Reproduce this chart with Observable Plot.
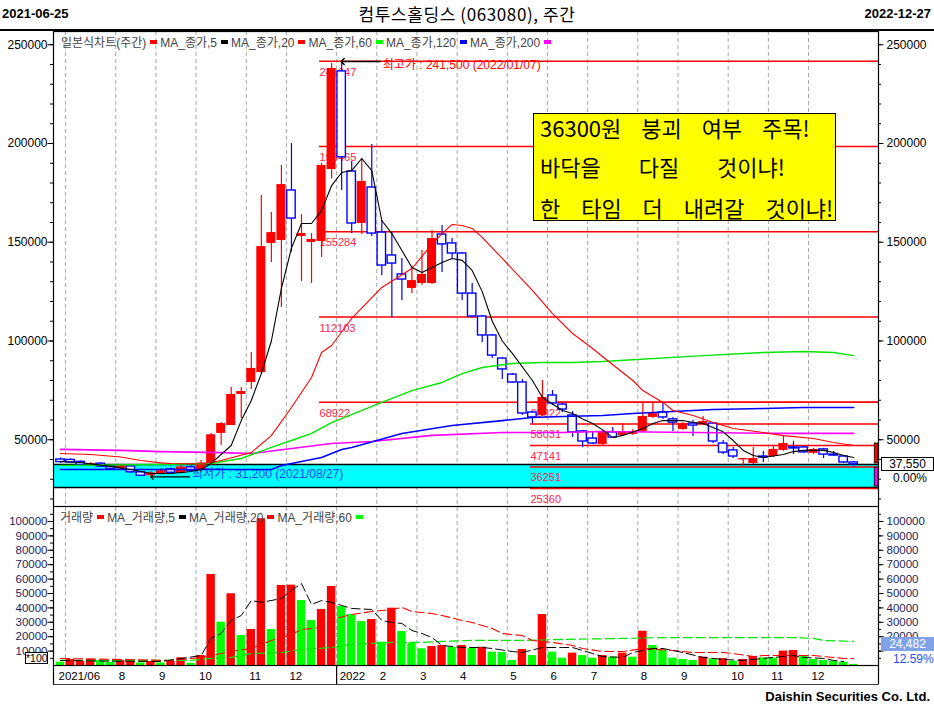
<!DOCTYPE html>
<html><head><meta charset="utf-8">
<script src="https://cdn.jsdelivr.net/npm/d3@7"></script>
<script src="https://cdn.jsdelivr.net/npm/@observablehq/plot@0.6"></script>
<style>
body{margin:0;background:#fff;}
#root{position:relative;width:934px;height:709px;overflow:hidden;font-family:"Liberation Sans","Noto Sans CJK KR",sans-serif;color:#000;}
.abs{position:absolute;white-space:pre;line-height:1;}
.leg{position:absolute;display:flex;align-items:center;font-size:12px;color:#444;white-space:pre;}
.mk{display:inline-block;width:7px;height:4px;margin:0 3px 0 4px;}
.yl{position:absolute;left:540px;font-size:22px;line-height:24px;white-space:pre;font-family:"Noto Sans CJK KR",sans-serif;}
</style></head><body><div id="root"></div>
<script>
// ---------- DATA ----------
const open = [40000,39800,38800,37300,37900,36500,35300,36500,33500,31800,
32800,35000,33000,36000,34400,37300,53200,57200,72900,79000,
84000,149400,150900,176200,152900,149900,150400,186800,236500,185800,
159500,177700,154900,143300,133700,126600,129100,129100,153900,149400,
144300,124000,112400,102800,91100,83000,79000,63800,62300,72400,
67800,62300,54200,50600,47600,53700,52200,52700,54200,61300,
63800,60300,55200,58200,57700,58200,48100,44600,39800,38000,
41500,41500,44600,46100,46100,43100,45100,42500,41500,38500];
const high = [40800,40300,39300,38300,38300,36900,37400,36900,34000,33800,
35300,35800,36900,36800,39500,53200,58700,76500,76500,94200,
173700,165000,188900,200000,164000,154400,190000,240500,241500,190900,
192400,199500,161000,154900,141800,137700,145800,155900,158500,151900,
144800,129100,112900,103300,91600,83500,80500,64300,80000,74900,
68400,64300,54700,54200,54700,56200,58200,55200,68900,68900,
68400,61300,58700,59700,61800,58700,49600,46100,40500,46100,
44100,47100,52200,49100,46600,45600,45600,44100,42000,39000];
const low = [38000,38000,36800,36900,36000,34900,35000,33000,31500,31200,
32300,32800,32800,33800,33400,37000,47100,57200,60800,75500,
83500,139700,117000,145000,130100,129100,142300,182000,176200,154400,
153900,152900,133000,111900,120500,124000,128100,128600,134700,141800,
120500,111900,99200,91100,80500,78500,62300,58000,61800,67300,
63800,51100,46100,47600,47100,50600,51600,52200,53700,60800,
60300,54200,54700,51700,57200,48100,42500,40500,36500,37500,
38500,41000,44100,42500,43100,42600,40500,41500,38000,36300];
const close = [38700,38500,37300,37900,36400,35300,36900,33500,31800,33200,
34300,33300,36200,34300,38200,52500,58200,72900,74400,86100,
147800,154900,179200,162000,154400,151400,188900,238000,193000,159500,
180800,154400,138200,139200,131100,130600,133700,151900,148900,144300,
124000,112400,102800,92600,85600,79000,63300,61300,71400,68400,
65300,53700,49100,48100,53700,51100,53700,54200,61800,63300,
61300,58700,58200,57200,59200,49100,43500,41500,40500,40500,
41000,45100,48100,45600,43600,45100,42500,42000,38500,37550];
// volume (x100 shares) and bar colour (R = more than prior week, G = less)
const volume = [2300,4200,2800,4200,3500,2300,3500,2800,1800,2800,
1800,2800,5300,1600,6900,63200,30100,49800,20800,25000,
101900,25000,55600,55800,45100,31200,38900,54900,41000,35400,
30500,31900,16200,39800,23600,15500,11600,13200,13900,12700,
13900,12000,12700,9300,9100,3500,11100,6900,35400,9300,
5100,8600,6900,5100,6900,5800,8600,5800,23800,13900,
10400,5100,4200,3500,5800,4600,4800,3000,4200,6200,
5300,5200,10000,10400,6200,4200,3500,3000,2300,700];
const volColor = ["G","R","R","R","G","G","R","R","G","R",
"G","R","R","G","R","R","G","R","G","R",
"R","G","R","R","G","G","R","R","G","G",
"G","R","G","R","G","G","G","R","R","G",
"R","G","R","G","G","G","R","G","R","G",
"G","R","G","G","R","G","R","G","R","G",
"G","G","G","G","R","G","R","G","R","R",
"G","G","R","R","G","G","G","G","G","G"];
// moving averages: [week index, value]
const ma5 = [[0,39000],[2,38500],[5,36500],[7,34900],[9,32900],[11,32900],[13,33900],[14,34900],[15,38000],[17,47100],[18,59700],[19,69900],[20,83500],[21,100000],[22,126600],[23,147000],[24,159500],[25,159500],[26,166000],[27,178700],[28,185300],[29,186300],[30,192400],[31,186300],[32,161000],[33,154400],[34,145800],[35,137200],[36,134700],[37,137200],[38,139700],[39,141800],[40,140800],[41,135700],[42,125000],[43,110000],[44,100000],[45,93700],[47,80000],[48,71400],[50,64800],[51,63300],[52,60500],[53,58200],[54,55000],[55,51100],[56,52200],[58,55700],[59,58200],[60,59700],[62,59700],[63,58700],[64,58200],[66,54000],[67,49600],[68,44600],[69,42000],[70,41000],[72,42500],[73,44000],[74,44600],[76,44600],[77,43500],[78,42000],[79,41000]];
const ma20 = [[0,43000],[3,42500],[6,41300],[8,39500],[10,38300],[11,38000],[14,37700],[16,39500],[19,43500],[21,52100],[23,66300],[25,81500],[26,94200],[27,97700],[29,111400],[32,127100],[35,136700],[37,149000],[38,154400],[39,159000],[40,158500],[41,157000],[42,152500],[44,141800],[47,125600],[49,113900],[51,103800],[53,96200],[54,92000],[57,80000],[58,74900],[60,68900],[61,64800],[63,62300],[65,58700],[67,55700],[70,53700],[72,52100],[75,50600],[77,48600],[79,47100]];
const ma60 = [[0,37000],[10,37500],[15,38000],[18,40500],[21,46100],[23,49600],[25,53200],[27,58700],[32,68900],[35,74900],[38,79000],[40,83500],[42,86600],[45,88600],[48,89100],[51,89100],[54,89600],[64,92600],[70,94200],[74,94700],[77,94200],[79,92600]];
const ma120 = [[0,34900],[9,34900],[21,34900],[22,37000],[26,41000],[28,45100],[29,46100],[34,53200],[39,57200],[44,59700],[47,61300],[50,61800],[54,62300],[57,63300],[61,64300],[65,65300],[70,65800],[74,66300],[79,66300]];
const ma200 = [[0,45100],[6,44600],[10,44000],[16,43500],[19,43000],[23,45600],[27,48100],[31,49100],[37,52200],[44,53700],[50,53700],[54,54200],[72,53200],[79,53200]];
const vma5 = [[0,3500],[5,3000],[10,2800],[14,6900],[15,18800],[16,22200],[17,31300],[18,34700],[19,45100],[20,43800],[22,46500],[23,52100],[24,56900],[25,42400],[26,45100],[27,43800],[28,41700],[29,39600],[31,38900],[32,31300],[33,29900],[34,29200],[35,24300],[36,22200],[37,19400],[38,13900],[40,12500],[42,12500],[43,11800],[45,9700],[46,9000],[48,12500],[50,12500],[51,12500],[53,8300],[54,6200],[56,5600],[57,9000],[59,11800],[60,11800],[62,9000],[64,5600],[65,4900],[66,4200],[68,3500],[69,4200],[71,5600],[73,6900],[74,5600],[76,4900],[77,3500],[78,2800]];
const vma20 = [[0,4900],[11,3500],[14,5600],[17,9700],[19,11800],[21,17400],[23,21500],[24,25000],[26,26400],[27,31900],[29,35400],[31,37500],[33,38900],[34,40300],[35,37500],[37,36100],[38,34700],[40,31300],[41,29900],[43,25700],[44,22200],[46,20800],[47,17400],[49,16000],[51,13900],[52,11800],[54,9700],[56,9700],[58,11800],[61,10400],[63,9000],[66,9000],[67,8300],[69,6200],[70,6900],[73,6900],[75,6900],[76,6200],[78,4900],[79,4900]];
const vma60 = [[0,3500],[13,3500],[15,4900],[17,5600],[19,8300],[22,9000],[24,11100],[27,12500],[29,14600],[31,15300],[33,16000],[36,16000],[38,16700],[41,17400],[46,17400],[50,18100],[56,18800],[60,19400],[73,19400],[75,18800],[76,17400],[79,16700]];
// support / resistance levels
const levelsA = [241647,198465,155284,112103,68922];
const levelStartA = 26;
const levelsB = [68922,58031,47141,36251,25360];
const levelStartB = 47;
const highlightBand = [25800,37500];
const highNote = {week: 28, price: 241500, text: "최고가 : 241,500 (2022/01/07)"};
const lowNote = {week: 9, price: 31200, text: "최저가 : 31,200 (2021/08/27)"};
const rangeBars = [{from: 38000, to: 48100, color: "#FF0000"}, {from: 26300, to: 35900, color: "#FF00FF"}];
// axis ticks
const priceTicks = [50000,100000,150000,200000,250000];
const volTicks = [10000,20000,30000,40000,50000,60000,70000,80000,90000,100000];
const volTicksRight = [20000,30000,40000,50000,60000,70000,80000,90000,100000];
const monthWeeks = [1,6,10,14,19,23,28,32,36,40,45,49,53,58,62,67,71,75];
const axisLabelWeeks = [0,6,10,14,19,23,28,32,36,40,45,49,53,58,62,67,71,75];
const axisLabels = ["2021/06","8","9","10","11","12","2022","2","3","4","5","6","7","8","9","10","11","12"];
const yearWeek = 28;

// ---------- CHART ----------
const RED="#FF0000", BLUE="#0000FF", GREEN="#00FF00", MAG="#FF00FF", LBL="#FF2448";
const FONT = '"Liberation Sans","Noto Sans CJK KR",sans-serif';
const X_L = -0.7, X_R = 81.47;
const priceDomain = [16200, 256700];
const volDomain = [0, 110400];
const candles = close.map((c,i)=>({i, o: open[i], h: high[i], l: low[i], c, up: c >= open[i]}));
const vols = volume.map((v,i)=>({i, v, c: volColor[i]}));
const minorP = d3.range(20000, 256000, 10000);
const minorV = d3.range(5000, 110000, 5000);
const px = d => d[0], py = d => d[1];

const pricePlot = Plot.plot({
  width: 934, height: 475, marginLeft: 53, marginRight: 56, marginTop: 0, marginBottom: 0,
  x: {domain: [X_L, X_R], axis: null},
  y: {domain: priceDomain, axis: null},
  style: {fontFamily: FONT, fontSize: "12px", background: "transparent", color: "#000"},
  marks: [
    Plot.ruleX(monthWeeks, {x: d => d - 0.5, stroke: "#A8A8A8", strokeDasharray: "4,3"}),
    Plot.rect([highlightBand], {x1: X_L, x2: X_R, y1: d => d[0], y2: d => d[1], fill: "#00FFFF"}),
    Plot.ruleY(highlightBand, {x1: X_L, x2: X_R, stroke: "#000", strokeWidth: 1.5}),
    Plot.ruleY(levelsA, {x1: levelStartA - 0.2, x2: X_R, stroke: RED, strokeWidth: 1.5}),
    Plot.ruleY(levelsB, {x1: levelStartB - 0.2, x2: X_R, stroke: RED, strokeWidth: 1.5}),
    Plot.text(levelsA, {x: levelStartA - 0.2, y: d => d, text: d => String(d), dy: 11, textAnchor: "start", fill: LBL, fontSize: 11}),
    Plot.text(levelsB, {x: levelStartB - 0.2, y: d => d, text: d => String(d), dy: 11, textAnchor: "start", fill: LBL, fontSize: 11}),
    Plot.link([lowNote], {x1: d => d.week + 3.9, x2: d => d.week + 0.1, y1: "price", y2: "price", stroke: "#000", strokeWidth: 1.2, markerEnd: "arrow"}),
    Plot.text([lowNote], {x: d => d.week + 4.1, y: "price", text: "text", dy: -3, textAnchor: "start", fill: "#1F3FFF", fontSize: 12}),
    // candles
    Plot.ruleX(candles, {x: "i", y1: "l", y2: "h", stroke: d => d.up ? RED : BLUE, strokeWidth: 1.2}),
    Plot.rect(candles.filter(d => d.up), {x1: d => d.i - 0.45, x2: d => d.i + 0.45, y1: "o", y2: "c", fill: RED}),
    Plot.rect(candles.filter(d => !d.up), {x1: d => d.i - 0.42, x2: d => d.i + 0.42, y1: "o", y2: "c", fill: "#fff", stroke: BLUE, strokeWidth: 1.4}),
    // moving averages
    Plot.line(ma200, {x: px, y: py, stroke: MAG, strokeWidth: 1.6}),
    Plot.line(ma120, {x: px, y: py, stroke: BLUE, strokeWidth: 1.6}),
    Plot.line(ma60, {x: px, y: py, stroke: "#00E600", strokeWidth: 1.4}),
    Plot.line(ma20, {x: px, y: py, stroke: RED, strokeWidth: 1.1}),
    Plot.line(ma5, {x: px, y: py, stroke: "#000", strokeWidth: 1.1}),
    // high annotation
    Plot.link([highNote], {x1: d => d.week + 3.9, x2: d => d.week + 0.1, y1: "price", y2: "price", stroke: "#000", strokeWidth: 1.5, markerEnd: "arrow"}),
    Plot.text([highNote], {x: d => d.week + 4.1, y: "price", text: "text", dy: 4, textAnchor: "start", fill: RED, fontSize: 12}),
    // range bars at right edge
    Plot.rect(rangeBars, {x1: 81.1, x2: X_R, y1: "from", y2: "to", fill: "color", stroke: "#000", strokeWidth: 0.8}),
    // axes
    Plot.ruleY(minorP, {x1: X_L - 0.3, x2: X_L, stroke: "#000"}),
    Plot.ruleY(minorP, {x1: X_R, x2: X_R + 0.3, stroke: "#000"}),
    Plot.ruleY(priceTicks, {x1: X_L - 0.55, x2: X_L, stroke: "#000"}),
    Plot.ruleY(priceTicks, {x1: X_R, x2: X_R + 0.55, stroke: "#000"}),
    Plot.text(priceTicks, {x: X_L, y: d => d, text: d => String(d), dx: -6, textAnchor: "end", fontSize: 12}),
    Plot.text(priceTicks, {x: X_R, y: d => d, text: d => String(d), dx: 8, textAnchor: "start", fontSize: 12}),
    Plot.frame({stroke: "#000", strokeWidth: 1.2})
  ]
});

const VCOL = "#1E1E5A";
const volPlot = Plot.plot({
  width: 934, height: 179, marginLeft: 53, marginRight: 56, marginTop: 0, marginBottom: 20,
  x: {domain: [X_L, X_R], axis: null},
  y: {domain: volDomain, axis: null},
  style: {fontFamily: FONT, fontSize: "12px", background: "transparent", color: "#000"},
  marks: [
    Plot.ruleX(monthWeeks, {x: d => d - 0.5, y1: 0, y2: volDomain[1], stroke: "#A8A8A8", strokeDasharray: "4,3"}),
    Plot.rect(vols.filter(d => d.c === "R"), {x1: d => d.i - 0.42, x2: d => d.i + 0.42, y1: 0, y2: "v", fill: RED}),
    Plot.rect(vols.filter(d => d.c === "G"), {x1: d => d.i - 0.42, x2: d => d.i + 0.42, y1: 0, y2: "v", fill: GREEN}),
    Plot.line(vma60, {x: px, y: py, stroke: "#00E600", strokeWidth: 1.2, strokeDasharray: "9,4"}),
    Plot.line(vma20, {x: px, y: py, stroke: RED, strokeWidth: 1.1, strokeDasharray: "9,4"}),
    Plot.line(vma5, {x: px, y: py, stroke: "#000", strokeWidth: 1, strokeDasharray: "9,4"}),
    Plot.ruleY(minorV, {x1: X_L - 0.3, x2: X_L, stroke: "#000"}),
    Plot.ruleY(minorV, {x1: X_R, x2: X_R + 0.3, stroke: "#000"}),
    Plot.ruleY(volTicks, {x1: X_L - 0.55, x2: X_L, stroke: "#000"}),
    Plot.ruleY(volTicks, {x1: X_R, x2: X_R + 0.55, stroke: "#000"}),
    Plot.text(volTicks, {x: X_L, y: d => d, text: d => String(d), dx: -6, textAnchor: "end", fill: VCOL, fontSize: 11.5}),
    Plot.text(volTicksRight, {x: X_R, y: d => d, text: d => String(d), dx: 8, textAnchor: "start", fill: VCOL, fontSize: 11.5}),
    Plot.frame({stroke: "#000", strokeWidth: 1.2}),
    // x axis strip
    Plot.ruleY([-19.5 * volDomain[1] / 159], {x1: X_L, x2: X_R, stroke: "#000", strokeWidth: 1.5}),
    Plot.ruleX([X_L, X_R, yearWeek - 0.5], {y1: -19.5 * volDomain[1] / 159, y2: 0, stroke: "#000", strokeWidth: 1.2}),
    Plot.text(axisLabels, {x: (d, i) => axisLabelWeeks[i] - 0.5, y: () => 0, text: d => d, dy: 11, dx: 3, textAnchor: "start", fontSize: 11.5})
  ]
});

// ---------- LAYOUT ----------
const root = document.getElementById("root");
function add(html){ root.insertAdjacentHTML("beforeend", html); }
add(`<div class="abs" style="left:2px;top:7px;font-size:13px;font-weight:bold;">2021-06-25</div>`);
add(`<div class="abs" style="left:0;width:934px;top:5px;text-align:center;font-size:17px;letter-spacing:0.6px;font-family:'Noto Sans CJK KR',sans-serif;">컴투스홀딩스 (063080), 주간</div>`);
add(`<div class="abs" style="right:3px;top:7px;font-size:13px;font-weight:bold;">2022-12-27</div>`);
add(`<div class="abs" style="left:0;top:29px;width:934px;height:0;border-top:2px solid #000;"></div>`);
const p1 = document.createElement("div"); p1.style.cssText = "position:absolute;left:0;top:31px;"; p1.appendChild(pricePlot); root.appendChild(p1);
const p2 = document.createElement("div"); p2.style.cssText = "position:absolute;left:0;top:506px;"; p2.appendChild(volPlot); root.appendChild(p2);
// legends
const legP = [["일본식차트(주간)", RED],["MA_종가,5","#000"],["MA_종가,20",RED],["MA_종가,60",GREEN],["MA_종가,120",BLUE],["MA_종가,200",MAG]];
add(`<div class="leg" style="left:61px;top:33px;">${legP.map(([t,c])=>`<span>${t}</span><span class="mk" style="background:${c}"></span>`).join("")}</div>`);
const legV = [["거래량", RED],["MA_거래량,5","#000"],["MA_거래량,20",RED],["MA_거래량,60",GREEN]];
add(`<div class="leg" style="left:60px;top:508px;">${legV.map(([t,c])=>`<span>${t}</span><span class="mk" style="background:${c}"></span>`).join("")}</div>`);
// yellow note
add(`<div class="abs" style="left:533px;top:113px;width:301px;height:106px;background:#FFFF00;border:1px solid #000;"></div>`);
add(`<div class="yl" style="top:115px;word-spacing:15px;">36300원 붕괴 여부 주목!</div>`);
add(`<div class="yl" style="top:154px;word-spacing:33px;">바닥을 다질 것이냐!</div>`);
add(`<div class="yl" style="top:195px;word-spacing:16px;">한 타임 더 내려갈 것이냐!</div>`);
// right side value tags
add(`<div class="abs" style="left:881px;top:457px;width:51px;height:12px;border:1px solid #000;background:#fff;font-size:12px;text-align:center;">37,550</div>`);
add(`<div class="abs" style="left:893px;top:472px;font-size:12px;">0.00%</div>`);
add(`<div class="abs" style="left:881px;top:637px;width:53px;height:14px;background:#7FA2E6;color:#fff;font-size:12px;text-align:center;line-height:14px;">24,482</div>`);
add(`<div class="abs" style="left:893px;top:653px;font-size:12px;color:#2A4BFF;">12.59%</div>`);
add(`<div class="abs" style="left:25px;top:652px;width:21px;height:10px;border:1px solid #000;background:#fff;font-size:10.5px;line-height:10px;text-align:center;">*100</div>`);
add(`<div class="abs" style="right:4px;top:690px;font-size:13px;font-weight:bold;">Daishin Securities Co. Ltd.</div>`);
</script></body></html>
